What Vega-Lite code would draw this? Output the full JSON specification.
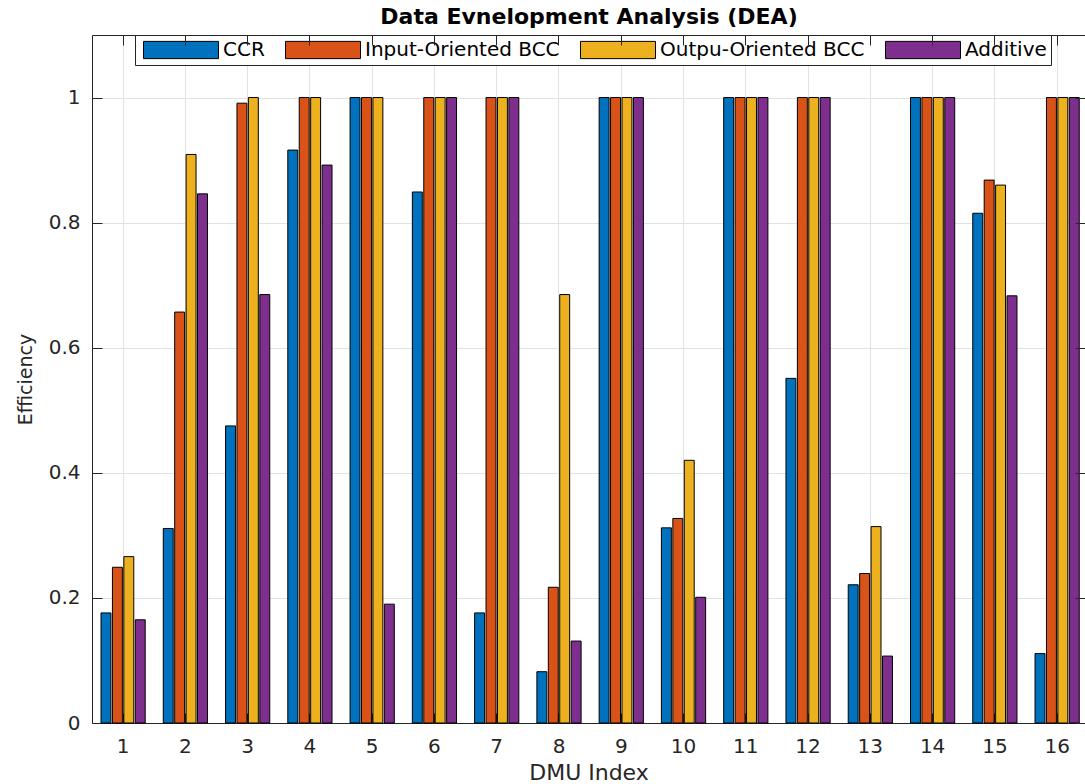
{
  "$schema": "https://vega.github.io/schema/vega-lite/v6.json",
  "autosize": {"type": "none"},
  "padding": {"left": 92, "top": 35, "right": 0, "bottom": 61},
  "width": 993,
  "height": 688,
  "data": {"values": [
    {"DMU": 1, "Method": "CCR", "Efficiency": 0.176},
    {"DMU": 1, "Method": "Input-Oriented BCC", "Efficiency": 0.249},
    {"DMU": 1, "Method": "Outpu-Oriented BCC", "Efficiency": 0.266},
    {"DMU": 1, "Method": "Additive", "Efficiency": 0.165},
    {"DMU": 2, "Method": "CCR", "Efficiency": 0.311},
    {"DMU": 2, "Method": "Input-Oriented BCC", "Efficiency": 0.657},
    {"DMU": 2, "Method": "Outpu-Oriented BCC", "Efficiency": 0.909},
    {"DMU": 2, "Method": "Additive", "Efficiency": 0.846},
    {"DMU": 3, "Method": "CCR", "Efficiency": 0.475},
    {"DMU": 3, "Method": "Input-Oriented BCC", "Efficiency": 0.991},
    {"DMU": 3, "Method": "Outpu-Oriented BCC", "Efficiency": 1},
    {"DMU": 3, "Method": "Additive", "Efficiency": 0.685},
    {"DMU": 4, "Method": "CCR", "Efficiency": 0.916},
    {"DMU": 4, "Method": "Input-Oriented BCC", "Efficiency": 1},
    {"DMU": 4, "Method": "Outpu-Oriented BCC", "Efficiency": 1},
    {"DMU": 4, "Method": "Additive", "Efficiency": 0.892},
    {"DMU": 5, "Method": "CCR", "Efficiency": 1},
    {"DMU": 5, "Method": "Input-Oriented BCC", "Efficiency": 1},
    {"DMU": 5, "Method": "Outpu-Oriented BCC", "Efficiency": 1},
    {"DMU": 5, "Method": "Additive", "Efficiency": 0.19},
    {"DMU": 6, "Method": "CCR", "Efficiency": 0.849},
    {"DMU": 6, "Method": "Input-Oriented BCC", "Efficiency": 1},
    {"DMU": 6, "Method": "Outpu-Oriented BCC", "Efficiency": 1},
    {"DMU": 6, "Method": "Additive", "Efficiency": 1},
    {"DMU": 7, "Method": "CCR", "Efficiency": 0.176},
    {"DMU": 7, "Method": "Input-Oriented BCC", "Efficiency": 1},
    {"DMU": 7, "Method": "Outpu-Oriented BCC", "Efficiency": 1},
    {"DMU": 7, "Method": "Additive", "Efficiency": 1},
    {"DMU": 8, "Method": "CCR", "Efficiency": 0.082},
    {"DMU": 8, "Method": "Input-Oriented BCC", "Efficiency": 0.217},
    {"DMU": 8, "Method": "Outpu-Oriented BCC", "Efficiency": 0.685},
    {"DMU": 8, "Method": "Additive", "Efficiency": 0.131},
    {"DMU": 9, "Method": "CCR", "Efficiency": 1},
    {"DMU": 9, "Method": "Input-Oriented BCC", "Efficiency": 1},
    {"DMU": 9, "Method": "Outpu-Oriented BCC", "Efficiency": 1},
    {"DMU": 9, "Method": "Additive", "Efficiency": 1},
    {"DMU": 10, "Method": "CCR", "Efficiency": 0.312},
    {"DMU": 10, "Method": "Input-Oriented BCC", "Efficiency": 0.327},
    {"DMU": 10, "Method": "Outpu-Oriented BCC", "Efficiency": 0.42},
    {"DMU": 10, "Method": "Additive", "Efficiency": 0.201},
    {"DMU": 11, "Method": "CCR", "Efficiency": 1},
    {"DMU": 11, "Method": "Input-Oriented BCC", "Efficiency": 1},
    {"DMU": 11, "Method": "Outpu-Oriented BCC", "Efficiency": 1},
    {"DMU": 11, "Method": "Additive", "Efficiency": 1},
    {"DMU": 12, "Method": "CCR", "Efficiency": 0.551},
    {"DMU": 12, "Method": "Input-Oriented BCC", "Efficiency": 1},
    {"DMU": 12, "Method": "Outpu-Oriented BCC", "Efficiency": 1},
    {"DMU": 12, "Method": "Additive", "Efficiency": 1},
    {"DMU": 13, "Method": "CCR", "Efficiency": 0.221},
    {"DMU": 13, "Method": "Input-Oriented BCC", "Efficiency": 0.239},
    {"DMU": 13, "Method": "Outpu-Oriented BCC", "Efficiency": 0.314},
    {"DMU": 13, "Method": "Additive", "Efficiency": 0.107},
    {"DMU": 14, "Method": "CCR", "Efficiency": 1},
    {"DMU": 14, "Method": "Input-Oriented BCC", "Efficiency": 1},
    {"DMU": 14, "Method": "Outpu-Oriented BCC", "Efficiency": 1},
    {"DMU": 14, "Method": "Additive", "Efficiency": 1},
    {"DMU": 15, "Method": "CCR", "Efficiency": 0.815},
    {"DMU": 15, "Method": "Input-Oriented BCC", "Efficiency": 0.868},
    {"DMU": 15, "Method": "Outpu-Oriented BCC", "Efficiency": 0.86},
    {"DMU": 15, "Method": "Additive", "Efficiency": 0.683},
    {"DMU": 16, "Method": "CCR", "Efficiency": 0.111},
    {"DMU": 16, "Method": "Input-Oriented BCC", "Efficiency": 1},
    {"DMU": 16, "Method": "Outpu-Oriented BCC", "Efficiency": 1},
    {"DMU": 16, "Method": "Additive", "Efficiency": 1}
  ]},
  "layer": [
    {
      "mark": {"type": "bar", "stroke": "#000000", "strokeWidth": 1, "opacity": 1},
      "encoding": {
        "x": {
          "field": "DMU", "type": "ordinal",
          "scale": {"paddingInner": 0.29, "paddingOuter": 0.1185, "align": 0.61},
          "axis": {"orient": "bottom", "title": "DMU Index", "titleFontSize": 22, "titleFontWeight": "normal", "titleColor": "#262626", "titlePadding": 6, "labelAngle": 0, "labelFontSize": 20, "labelColor": "#262626", "labelPadding": 23, "tickSize": -10, "tickColor": "#262626", "domainColor": "#262626", "grid": true, "gridColor": "#e2e2e2", "bandPosition": 0.5, "zindex": 0}
        },
        "xOffset": {"field": "Method", "type": "nominal", "scale": {"domain": ["CCR", "Input-Oriented BCC", "Outpu-Oriented BCC", "Additive"], "paddingInner": 0.13, "paddingOuter": 0}},
        "y": {
          "field": "Efficiency", "type": "quantitative",
          "scale": {"domain": [0, 1.1], "nice": false, "zero": true},
          "axis": {"orient": "left", "title": "Efficiency", "titleFontSize": 19, "titleFontWeight": "normal", "titleColor": "#262626", "titlePadding": 13, "values": [0, 0.2, 0.4, 0.6, 0.8, 1], "format": ".1~f", "labelFontSize": 20, "labelColor": "#262626", "labelPadding": 22, "tickSize": -10, "tickColor": "#262626", "domainColor": "#262626", "grid": true, "gridColor": "#e2e2e2", "zindex": 0}
        },
        "color": {
          "field": "Method", "type": "nominal",
          "scale": {"domain": ["CCR", "Input-Oriented BCC", "Outpu-Oriented BCC", "Additive"], "range": ["#0072BD", "#D95319", "#EDB120", "#7E2F8E"]},
          "legend": {"orient": "none", "legendX": 43, "legendY": 0, "direction": "horizontal", "title": null, "symbolType": "M-1,-0.23H1V0.23H-1Z", "symbolSize": 5625, "symbolStrokeColor": "#000000", "symbolStrokeWidth": 1, "symbolOpacity": 1, "symbolOffset": 4, "labelFontSize": 20, "labelColor": "#000000", "labelOffset": 4, "labelLimit": 400, "columnPadding": 16, "padding": 4, "clipHeight": 22, "fillColor": "#ffffff", "strokeColor": "#262626"}
        }
      }
    },
    {
      "mark": {"type": "bar", "opacity": 0},
      "encoding": {
        "x": {"field": "DMU", "type": "ordinal", "axis": {"orient": "top", "title": "Data Evnelopment Analysis (DEA)", "titleFontSize": 22, "titleFontWeight": "bold", "titleFont": "DejaVu Sans", "titleColor": "#000000", "titleBaseline": "alphabetic", "titlePadding": 11, "labels": false, "tickSize": -10, "tickColor": "#262626", "domainColor": "#262626", "grid": false, "bandPosition": 0.5, "zindex": 1}},
        "y": {"field": "Efficiency", "type": "quantitative", "axis": {"orient": "right", "title": null, "labels": false, "values": [0, 0.2, 0.4, 0.6, 0.8, 1], "tickSize": -10, "tickColor": "#262626", "domainColor": "#262626", "grid": false, "zindex": 1}}
      }
    }
  ],
  "resolve": {"axis": {"x": "independent", "y": "independent"}},
  "config": {
    "font": "DejaVu Sans",
    "view": {"stroke": null},
    "axis": {"domainWidth": 1, "tickWidth": 1, "gridWidth": 1}
  }
}
